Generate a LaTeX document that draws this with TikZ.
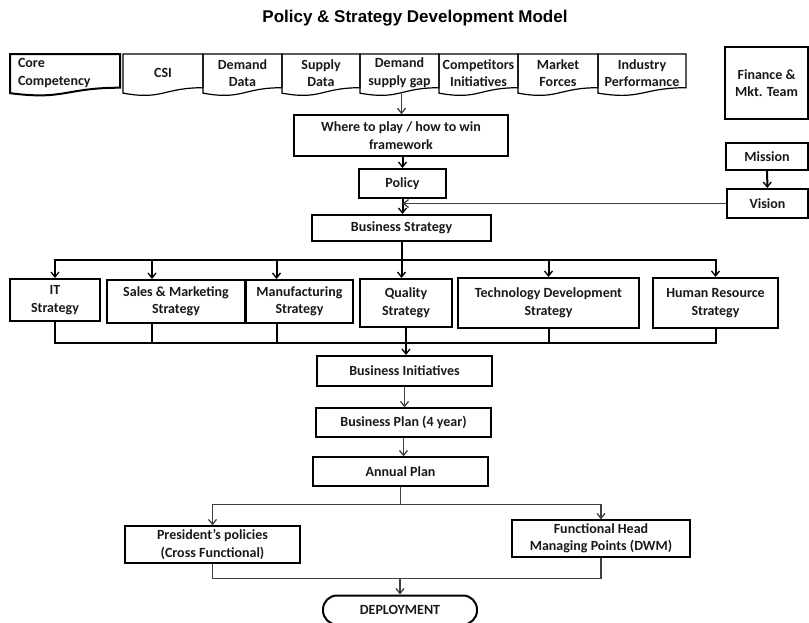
\documentclass[tikz,border=0pt]{standalone}
\usepackage{fontspec}
\setmainfont{Carlito}
\newfontfamily\titlefont{Liberation Sans}
\usetikzlibrary{arrows.meta,calc}

\tikzset{
  box/.style={draw, line width=1.2pt, align=center, inner sep=2pt, text=black!90,
    font=\bfseries\fontsize{14}{17.5}\selectfont},
  boldbox/.style={box, line width=2pt},
  docbox/.style={box, draw=none, outer sep=0pt, anchor=north west, minimum height=38pt},
  link/.style={line width=2pt},
  thinlink/.style={line width=1.2pt, draw=black!75},
  arr/.style={-{Straight Barb[length=5pt,width=8pt,line width=1.3pt]}},
}

% wavy bottom of the input documents
\newcommand{\docoutline}[2][1.2pt]{%
  \draw[line width=#1] (#2.north west) -- (#2.north east)
    -- ($(#2.north east)!0.887!(#2.south east)$)
    .. controls ($(#2.north)!0.887!(#2.south)$) and ($(#2.north)!1.22!(#2.south)$)
    .. ($(#2.north west)!1.03!(#2.south west)$) -- cycle;}

\begin{document}
\begin{tikzpicture}[x=1pt,y=-1pt]
    \useasboundingbox (0,0) rectangle (809,622);

    % Title
    \node[font=\titlefont\bfseries\fontsize{17}{20}\selectfont] (title) at (415,18)
        {Policy \& Strategy Development Model};

    % Input documents
    \node[docbox, minimum width=110pt, align=left, text width=94pt] (core) at (10,54) {Core\\Competency};
    \node[docbox, minimum width=80pt] (csi) at (123,54) {CSI};
    \node[docbox, minimum width=79pt] (demand) at (203,54) {Demand\\Data};
    \node[docbox, minimum width=78pt] (supply) at (282,54) {Supply\\Data};
    \node[docbox, minimum width=79pt] (gap) at (360,54) {Demand\\supply gap};
    \node[docbox, minimum width=79pt] (comp) at (439,54) {Competitors\\Initiatives};
    \node[docbox, minimum width=80pt] (market) at (518,54) {Market\\Forces};
    \node[docbox, minimum width=88pt] (industry) at (598,54) {Industry\\Performance};
    \docoutline[2pt]{core}
    \foreach \d in {csi,demand,supply,gap,comp,market,industry}
        \docoutline{\d};

    % Right column
    \node[boldbox, minimum width=83pt, minimum height=72pt] (finance) at (766.5,83) {Finance \&\\Mkt. Team};
    \node[boldbox, minimum width=82pt, minimum height=27pt] (mission) at (767,156.5) {Mission};
    \node[boldbox, minimum width=81pt, minimum height=29pt] (vision) at (767.5,203.5) {Vision};

    % Framework, policy and business strategy
    \node[box, line width=1.5pt, minimum width=214pt, minimum height=41pt] (where) at (401,135.5)
        {Where to play / how to win\\framework};
    \node[boldbox, minimum width=87pt, minimum height=29pt] (policy) at (402.5,183.5) {Policy};
    \node[boldbox, minimum width=179pt, minimum height=26pt] (bstrat) at (401.5,228) {Business Strategy};

    % Functional strategies
    \node[boldbox, minimum width=90pt, minimum height=42pt] (it) at (55,300) {IT\\Strategy};
    \node[boldbox, minimum width=138pt, minimum height=43pt] (sales) at (176,301.5) {Sales \& Marketing\\Strategy};
    \node[boldbox, minimum width=107pt, minimum height=43pt] (manuf) at (299.5,301.5) {Manufacturing\\Strategy};
    \node[boldbox, minimum width=92pt, minimum height=48pt] (quality) at (406,303) {Quality\\Strategy};
    \node[boldbox, minimum width=181pt, minimum height=50pt] (tech) at (548.5,303) {Technology Development\\Strategy};
    \node[boldbox, minimum width=125pt, minimum height=50pt] (hr) at (715.5,303) {Human Resource\\Strategy};

    % Plans
    \node[boldbox, minimum width=175pt, minimum height=30pt] (bi) at (404.5,371) {Business Initiatives};
    \node[box, minimum width=175pt, minimum height=29pt] (bp) at (403.5,422.5) {Business Plan (4 year)};
    \node[box, minimum width=175pt, minimum height=29pt] (ap) at (400.5,471.5) {Annual Plan};
    \node[box, minimum width=175pt, minimum height=37pt] (pres) at (212.5,544.5) {President’s policies\\(Cross Functional)};
    \node[box, minimum width=178pt, minimum height=37pt] (func) at (601,538.5) {Functional Head\\Managing Points (DWM)};
    \node[boldbox, rounded corners=14pt, minimum width=154pt, minimum height=29pt] (deploy) at (400,610) {DEPLOYMENT};

    % Connectors, top half
    \coordinate (gapout) at ($(gap.south)+(2,0)$);
    \draw[thinlink, arr] (gapout) -- (gapout |- where.north);
    \draw[link, arr] (policy.north |- where.south) -- (policy.north);
    \draw[link, arr] (mission) -- (vision);
    \draw[link, arr] (policy.south) -- (policy.south |- bstrat.north);
    \draw[thinlink, arr] (vision.west) -- (vision.west -| policy.south);

    % Business strategy to functional strategies
    \draw[link, arr] (bstrat.south) -- ++(0,18) -| (it.north);
    \draw[link, arr] (bstrat.south) -- ++(0,18) -| ($(sales.north)+(-24,0)$);
    \draw[link, arr] (bstrat.south) -- ++(0,18) -| ($(manuf.north)+(-23,0)$);
    \draw[link, arr] (bstrat.south) -- (bstrat.south |- quality.north);
    \draw[link, arr] (bstrat.south) -- ++(0,18) -| (tech.north);
    \draw[link, arr] (bstrat.south) -- ++(0,18) -| (hr.north);

    % Functional strategies join into business initiatives
    \coordinate (join) at ($(quality.south)+(0,15)$);
    \draw[link, line width=1.6pt] (it.south) |- (join);
    \draw[link] ($(sales.south)+(-24,0)$) |- (join);
    \draw[link] ($(manuf.south)+(-23,0)$) |- (join);
    \draw[link] (tech.south) |- (join);
    \draw[link] (hr.south) |- (join);
    \draw[link, arr] (quality.south) -- (quality.south |- bi.north);

    % Connectors, bottom half
    \draw[thinlink, arr] (bi.south) -- (bi.south |- bp.north);
    \draw[thinlink, arr] (bp.south) -- (bp.south |- ap.north);
    \draw[thinlink, arr] (ap.south) -- ++(0,18) -| (pres.north);
    \draw[thinlink, arr] (ap.south) -- ++(0,18) -| (func.north);
    \coordinate (merge) at ($(deploy.north)+(0,-16)$);
    \draw[thinlink] (pres.south) |- (merge);
    \draw[thinlink] (func.south) |- (merge);
    \draw[thinlink, arr] (merge) -- (deploy.north);

\end{tikzpicture}
\end{document}
